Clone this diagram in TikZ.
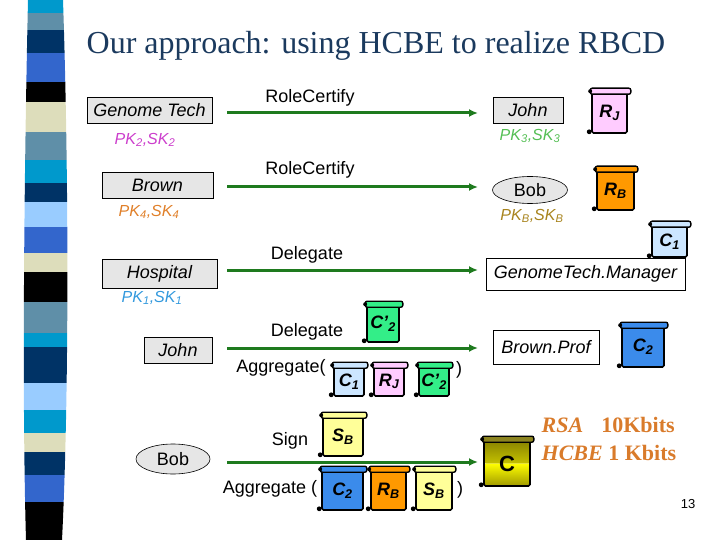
\documentclass[tikz,border=0pt]{standalone}
\usepackage{fontspec}
\setmainfont{Liberation Sans}
\newfontfamily\timesfont{Liberation Serif}
\usetikzlibrary{arrows.meta,shapes.geometric,positioning}

\definecolor{titleblue}{HTML}{1B3A5E}
\definecolor{flowgreen}{HTML}{1E7A1E}
\definecolor{boxgray}{HTML}{E6E6E6}
\definecolor{keymagenta}{HTML}{CC3FCC}
\definecolor{keyorange}{HTML}{E0802A}
\definecolor{keygreen}{HTML}{55BF55}
\definecolor{keygold}{HTML}{A8841E}
\definecolor{keyblue}{HTML}{3399DD}
\definecolor{sizeorange}{HTML}{D97B2B}
\definecolor{rjpink}{HTML}{FFCCFF}
\definecolor{rborange}{HTML}{FF9900}
\definecolor{cone}{HTML}{CCE6FF}
\definecolor{ctwo}{HTML}{3B8BEB}
\definecolor{cprime}{HTML}{33EE88}
\definecolor{sbyellow}{HTML}{FFFF99}
\definecolor{cdark}{HTML}{8A8400}
\definecolor{cbot}{HTML}{A09A00}
\definecolor{cbright}{HTML}{FFFF00}
\definecolor{cbar}{HTML}{8C8420}
\definecolor{stcyan}{HTML}{0099CC}
\definecolor{ststeel}{HTML}{5F8FA8}
\definecolor{stnavy}{HTML}{003366}
\definecolor{stroyal}{HTML}{3366CC}
\definecolor{stbeige}{HTML}{DDDDBB}
\definecolor{stsky}{HTML}{99CCFF}

\tikzset{
  every node/.style={inner sep=1.5pt},
  actor/.style={draw, fill=boxgray, line width=0.8pt, minimum height=26pt,
    font=\fontsize{18}{20}\selectfont\itshape},
  rolebox/.style={actor, fill=white},
  bobnode/.style={draw, ellipse, fill=boxgray, line width=0.6pt,
    minimum width=75pt, minimum height=27pt, font=\fontsize{18}{20}\selectfont},
  keys/.style={font=\fontsize{16}{18}\selectfont\itshape},
  msg/.style={font=\fontsize{18}{20}\selectfont},
  flow/.style={draw=flowgreen, line width=3pt, -{Latex[length=9pt,width=8pt]}},
  scrollbody/.style={draw, line width=1.6pt, rounded corners=1.5pt, inner sep=0pt,
    font=\fontsize{18}{20}\selectfont\bfseries\itshape},
  scrolltop/.style={draw, line width=1.4pt, rounded corners=2pt},
  goldshade/.style={path picture={
    \shade[top color=cdark, bottom color=cbright]
      (path picture bounding box.north west) rectangle (path picture bounding box.east);
    \shade[top color=cbright, bottom color=cbot]
      (path picture bounding box.west) rectangle (path picture bounding box.south east);
  }}
}

% 巻物: 名前, 位置, 幅, 高さ, 色, 文字
\newcommand{\scrollat}[6]{%
  \node[scrollbody, fill=#5, minimum width=#3, minimum height=#4] (#1) at (#2) {#6};
  \draw[scrolltop, fill=#5] ([xshift=-1pt,yshift=-2pt]#1.north west)
    rectangle ([xshift=3pt,yshift=4pt]#1.north east);
  \fill ([xshift=-1pt,yshift=1pt]#1.north west) circle (2pt);
  \fill ([xshift=-2pt,yshift=2pt]#1.south west) circle (2.4pt);
}

\begin{document}
\begin{tikzpicture}[x=1pt, y=-1pt]
    \useasboundingbox (0,0) rectangle (720,540);

    % 左の帯
    \begin{scope}
      \clip (28,0) .. controls (24,180) and (22,400) .. (26,540)
        -- (62,540) .. controls (69,400) and (69,180) .. (63,0) -- cycle;
      \foreach \ya/\yb/\col in {0/13/stcyan, 13/30/ststeel, 30/53/stnavy, 53/82/stroyal,
        82/102/black, 102/132/stbeige, 132/160/ststeel, 160/183/stcyan, 183/202/stnavy,
        202/227/stsky, 227/253/stroyal, 253/272/stbeige, 272/302/black, 302/333/ststeel,
        333/347/stcyan, 347/383/stnavy, 383/410/stsky, 410/433/stcyan, 433/452/stbeige,
        452/475/stnavy, 475/502/stroyal, 502/540/black}
        \fill[\col] (18,\ya) rectangle (72,\yb);
    \end{scope}

    % 題
    \node[anchor=base west, text=titleblue, font=\timesfont\fontsize{32}{36}\selectfont]
      (title) at (85,54) {Our approach: using HCBE to realize RBCD};

    % 頂点
    \node[actor, minimum width=125pt] (gt) at (149.5,110) {Genome Tech};
    \node[keys, text=keymagenta] (pk2) at (145,140) {PK\textsubscript{2},SK\textsubscript{2}};
    \node[actor, minimum width=70pt] (johna) at (528,110) {John};
    \node[keys, text=keygreen] (pk3) at (530,136) {PK\textsubscript{3},SK\textsubscript{3}};
    \node[actor, minimum width=111pt] (brown) at (157.5,185) {Brown};
    \node[keys, text=keyorange] (pk4) at (149,212) {PK\textsubscript{4},SK\textsubscript{4}};
    \node[bobnode] (boba) at (530,190) {Bob};
    \node[keys, text=keygold] (pkb) at (532,216) {PK\textsubscript{B},SK\textsubscript{B}};
    \node[actor, minimum width=115pt, minimum height=29pt] (hosp) at (159.5,273.5) {Hospital};
    \node[keys, text=keyblue] (pk1) at (152,298) {PK\textsubscript{1},SK\textsubscript{1}};
    \node[rolebox, minimum width=199pt, minimum height=32pt] (gtm) at (585.5,274) {GenomeTech.Manager};
    \node[actor, minimum width=68pt] (johnb) at (178,350) {John};
    \node[rolebox, minimum width=106pt, minimum height=34pt] (bprof) at (546,347) {Brown.Prof};
    \node[bobnode, minimum width=74pt, minimum height=30pt] (bobb) at (173,459) {Bob};

    % 矢印
    \foreach \n/\y in {1/113, 2/187, 3/270, 4/348, 5/462} {
      \coordinate (s\n) at (227,\y);
      \coordinate (e\n) at (478,\y);
    }
    \foreach \n in {1,...,5}
      \draw[flow] (s\n) -- (e\n);

    % 矢印の文字
    \node[msg] (rc1) at (310,98) {RoleCertify};
    \node[msg] (rc2) at (310,170) {RoleCertify};
    \node[msg] (dl1) at (307,255) {Delegate};
    \node[msg] (dl2) at (307,332) {Delegate};
    \node[msg] (sign) at (290,441) {Sign};
    \node[msg] (agg1) at (281,368) {Aggregate(};
    \node[msg] (agg2) at (270,489) {Aggregate (};
    \node[msg] (cl1) at (459,370) {)};
    \node[msg] (cl2) at (460,490) {)};

    % 巻物
    \scrollat{rja}{609.5,113}{35pt}{40pt}{rjpink}{R\textsubscript{J}}
    \scrollat{rba}{615.5,190.5}{37pt}{39pt}{rborange}{R\textsubscript{B}}
    \scrollat{c1a}{669.5,241.5}{35pt}{31pt}{cone}{C\textsubscript{1}}
    \scrollat{cpa}{383,324}{32pt}{36pt}{cprime}{C'\textsubscript{2}}
    \scrollat{c2a}{643,347}{42pt}{40pt}{ctwo}{C\textsubscript{2}}
    \scrollat{c1b}{349,381.5}{30pt}{29pt}{cone}{C\textsubscript{1}}
    \scrollat{rjb}{389,381.5}{30pt}{29pt}{rjpink}{R\textsubscript{J}}
    \scrollat{cpb}{434,381.5}{30pt}{29pt}{cprime}{C'\textsubscript{2}}
    \scrollat{sba}{343,436.5}{40pt}{39pt}{sbyellow}{S\textsubscript{B}}
    \scrollat{c2b}{342.5,490.5}{41pt}{39pt}{ctwo}{C\textsubscript{2}}
    \scrollat{rbb}{388.5,490.5}{35pt}{39pt}{rborange}{R\textsubscript{B}}
    \scrollat{sbb}{434,490.5}{36pt}{39pt}{sbyellow}{S\textsubscript{B}}

    \node[scrollbody, goldshade, minimum width=46pt, minimum height=45pt,
      font=\fontsize{22}{24}\selectfont\bfseries] (cbig) at (507,463.5) {C};
    \draw[scrolltop, fill=cbar] ([xshift=-1pt,yshift=-2pt]cbig.north west)
      rectangle ([xshift=3pt,yshift=4pt]cbig.north east);
    \fill ([xshift=-1pt,yshift=1pt]cbig.north west) circle (2pt);
    \fill ([xshift=-2pt,yshift=2pt]cbig.south west) circle (2.4pt);

    % 大きさ
    \node[anchor=west, text=sizeorange, font=\timesfont\bfseries\fontsize{22}{24}\selectfont]
      (rsa) at (540,425) {\itshape RSA\upshape\hspace{18pt}10Kbits};
    \node[anchor=west, text=sizeorange, font=\timesfont\bfseries\fontsize{22}{24}\selectfont]
      (hcbe) at (540,453) {\itshape HCBE\upshape{} 1 Kbits};
    \node[font=\fontsize{13}{15}\selectfont] (pnum) at (688,504) {13};
\end{tikzpicture}
\end{document}
